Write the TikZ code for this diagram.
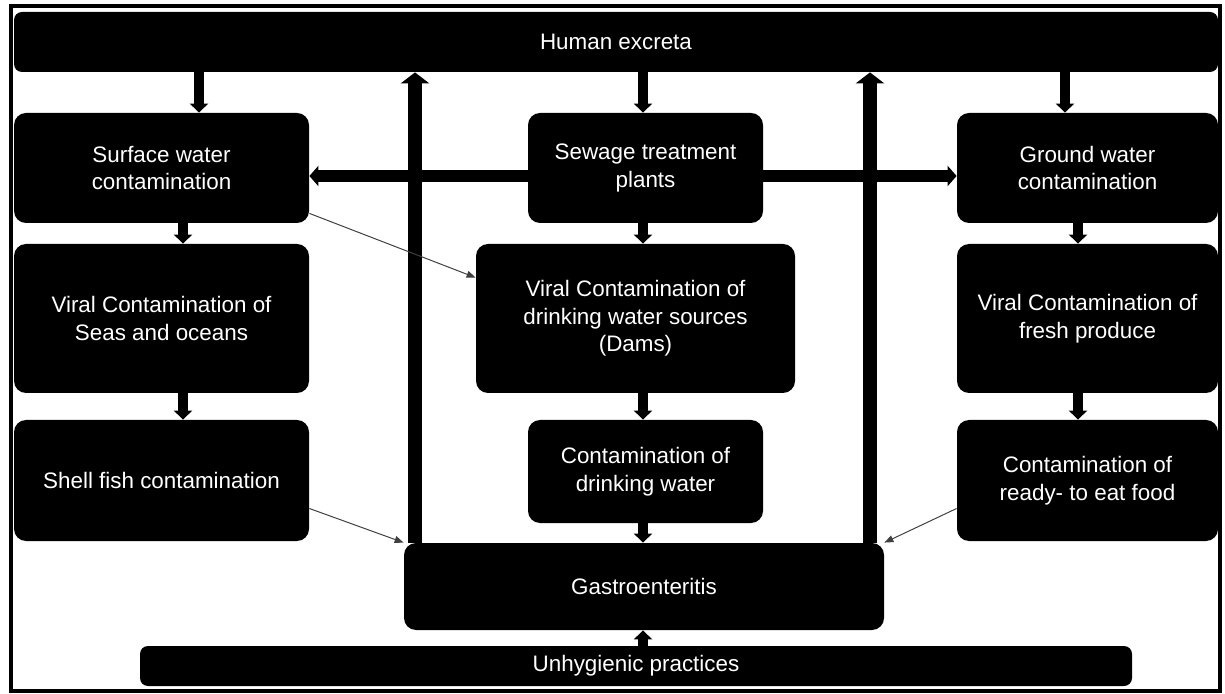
\documentclass[tikz,border=0pt]{standalone}
\usepackage{fontspec}
\setmainfont{Liberation Sans}
\usetikzlibrary{arrows.meta}
\tikzset{
  blk/.style={fill=black, text=white, rounded corners=6pt, align=center, inner sep=0pt,
    font=\fontsize{11.2}{13.8}\selectfont},
  downarr/.style={line width=5pt, -{Triangle[width=9pt,length=4.5pt]}},
  sidearr/.style={line width=6pt, -{Triangle[width=10pt,length=4.5pt]}},
  uparr/.style={line width=7pt, -{Triangle[width=14pt,length=5.5pt]}},
  slimarr/.style={line width=0.5pt, black!75, -{Triangle[width=3.5pt,length=4.5pt]}}
}
\begin{document}
\begin{tikzpicture}[x=0.5pt,y=-0.5pt]
\useasboundingbox (0,0) rectangle (1225,694);
\draw[line width=2pt] (10.5,6) rectangle (1220,690.5);
\node[blk, rounded corners=4pt, minimum width=602pt, minimum height=30pt] (human) at (616,42) {Human excreta};
\node[blk, minimum width=147.5pt, minimum height=55pt] (surface) at (161.5,168) {Surface water\\contamination};
\node[blk, minimum width=117.5pt, minimum height=55pt] (sewage) at (645.5,168) {Sewage treatment\\plants};
\node[blk, minimum width=130.5pt, minimum height=55pt] (ground) at (1087.5,168) {Ground water\\contamination};
\node[blk, minimum width=147.5pt, minimum height=74.5pt] (seas) at (161.5,318.5) {Viral Contamination of\\Seas and oceans};
\node[blk, minimum width=159.5pt, minimum height=74.5pt] (dams) at (635.5,318.5) {Viral Contamination of\\drinking water sources\\(Dams)};
\node[blk, minimum width=130.5pt, minimum height=74.5pt] (fresh) at (1087.5,318.5) {Viral Contamination of\\fresh produce};
\node[blk, minimum width=147.5pt, minimum height=60.5pt] (shell) at (161.5,480.5) {Shell fish contamination};
\node[blk, minimum width=117.5pt, minimum height=51.5pt] (drink) at (645.5,471.5) {Contamination of\\drinking water};
\node[blk, minimum width=130.5pt, minimum height=60.5pt] (ready) at (1087.5,480.5) {Contamination of\\ready- to eat food};
\node[blk, minimum width=240pt, minimum height=43.5pt] (gastro) at (644,586.5) {Gastroenteritis};
\node[blk, rounded corners=4pt, minimum width=496pt, minimum height=20pt] (unhyg) at (636,666) {Unhygienic practices};
% x positions of the vertical arrows
\coordinate (xa) at (199,0);
\coordinate (xb) at (183,0);
\coordinate (xc) at (643,0);
\coordinate (xd) at (1065,0);
\coordinate (xe) at (1078,0);
\coordinate (xl) at (415,0);
\coordinate (xr) at (870,0);
\draw[downarr] (human.south -| xa) -- (surface.north -| xa);
\draw[downarr] (human.south -| xc) -- (sewage.north -| xc);
\draw[downarr] (human.south -| xd) -- (ground.north -| xd);
\draw[downarr] (surface.south -| xb) -- (seas.north -| xb);
\draw[downarr] (sewage.south -| xc) -- (dams.north -| xc);
\draw[downarr] (ground.south -| xe) -- (fresh.north -| xe);
\draw[downarr] (seas.south -| xb) -- (shell.north -| xb);
\draw[downarr] (dams.south -| xc) -- (drink.north -| xc);
\draw[downarr] (fresh.south -| xe) -- (ready.north -| xe);
\draw[downarr] (drink.south -| xc) -- (gastro.north -| xc);
\draw[downarr] (unhyg.north -| xc) -- (gastro.south -| xc);
\draw[sidearr] ([yshift=-4pt]sewage.west) -- ([yshift=-4pt]surface.east);
\draw[sidearr] ([yshift=-4pt]sewage.east) -- ([yshift=-4pt]ground.west);
\draw[uparr] (gastro.north -| xl) -- (human.south -| xl);
\draw[uparr] (gastro.north -| xr) -- (human.south -| xr);
\draw[slimarr] ([yshift=5pt]surface.south east) -- ([yshift=-17pt]dams.north west);
\draw[slimarr] ([yshift=-14pt]shell.east) -- (gastro.north west);
\draw[slimarr] ([yshift=-14pt]ready.west) -- (gastro.north east);
\end{tikzpicture}
\end{document}
